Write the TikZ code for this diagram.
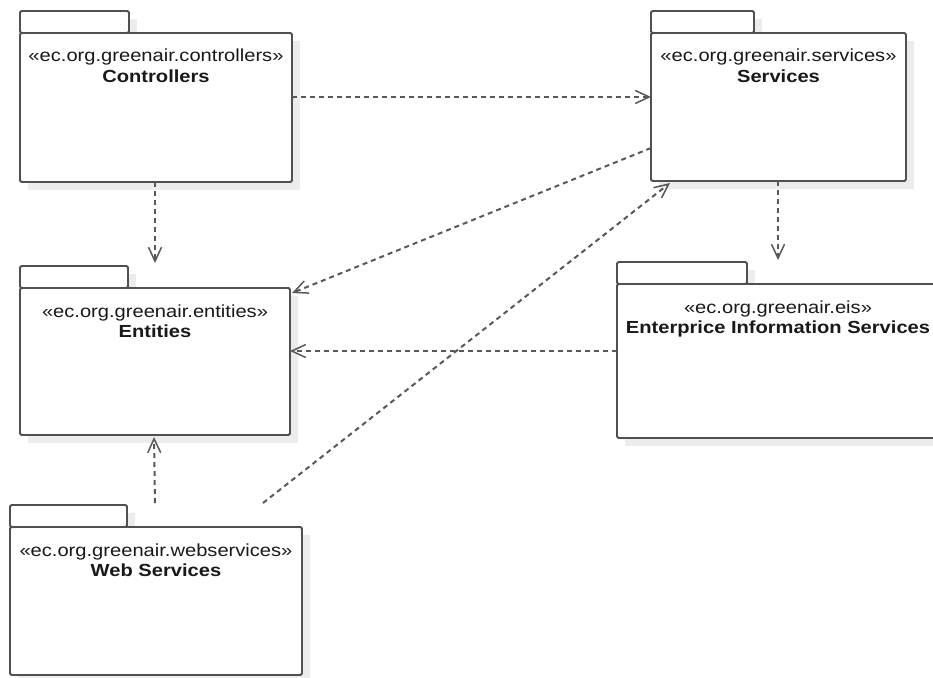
\documentclass[tikz,border=0pt]{standalone}
\usepackage{fontspec}
\setmainfont[FakeStretch=1.15]{Liberation Sans}
\usetikzlibrary{arrows.meta,calc}

\definecolor{pkgline}{HTML}{505050}
\definecolor{depline}{HTML}{585858}
\definecolor{pkgshade}{HTML}{ECECEC}

\tikzset{
  pkgpart/.style={draw=pkgline, line width=1.9pt, fill=white, rounded corners=1.5pt,
    inner sep=0pt, outer sep=0pt, anchor=north west},
  stereotxt/.style={inner sep=0pt, font=\fontsize{17.5}{20}\selectfont, text=black!90},
  titletxt/.style={inner sep=0pt, font=\fontsize{17.5}{20}\selectfont\bfseries, text=black!90},
  depend/.style={draw=depline, line width=2pt, dash pattern=on 5pt off 4pt,
    -{Straight Barb[length=14pt,width=13pt,line width=1.5pt]}},
}

% #1 name, #2 left, #3 tab top, #4 tab right, #5 body top, #6 right, #7 bottom,
% #8 stereotype, #9 package title
\newcommand\umlpackage[9]{%
  \fill[pkgshade] (#2+8,#3+8) rectangle (#4+8,#5+8);
  \fill[pkgshade] (#2+8,#5+8) rectangle (#6+8,#7+8);
  \node[pkgpart, minimum width={#4-#2}, minimum height={#5-#3}] (#1tab) at (#2,#3) {};
  \node[pkgpart, minimum width={#6-#2}, minimum height={#7-#5}] (#1) at (#2,#5) {};
  \node[stereotxt, anchor=base] (#1st) at ($(#1.north)+(0,29)$) {«#8»};
  \node[titletxt, anchor=base] (#1nm) at ($(#1.north)+(0,49)$) {#9};
}

\begin{document}
\begin{tikzpicture}[x=1pt, y=-1pt]
  \useasboundingbox (0,0) rectangle (933,677);
  \clip (0,0) rectangle (933,677);

  \umlpackage{ctrl}{20}{11}{129}{33}{292}{182}{ec.org.greenair.controllers}{Controllers}
  \umlpackage{srv}{651}{11}{754}{33}{906}{181}{ec.org.greenair.services}{Services}
  \umlpackage{ent}{20}{266}{128}{288}{290}{435}{ec.org.greenair.entities}{Entities}
  \umlpackage{eis}{617}{262}{747}{284}{939}{438}{ec.org.greenair.eis}{Enterprice Information Services}
  \umlpackage{ws}{10}{505}{127}{527}{302}{675}{ec.org.greenair.webservices}{Web Services}

  % dependencies
  \draw[depend] ($(ctrl.north east)+(0,64)$) -- ($(srv.north west)+(0,64)$);
  \draw[depend] ($(ctrl.south)+(-1,0)$) -- ($(ctrl.south |- enttab.north)+(-1,-3)$);
  \draw[depend] ($(srv.north west)+(0,115)$) -- ($(ent.north east)+(2,5)$);
  \draw[depend] ($(ws.north east)+(-39,-24)$) -- ($(srv.south west)+(19,2)$);
  \draw[depend] ($(srv.south)+(-0.5,0)$) -- ($(srv.south |- eistab.north)+(-0.5,-2)$);
  \draw[depend] ($(eis.north west)+(0,67)$) -- ($(ent.north east)+(0,63)$);
  \draw[depend] ($(ws.north)+(-1,-24)$) -- ($(ent.south)+(-1,2)$);
\end{tikzpicture}
\end{document}
